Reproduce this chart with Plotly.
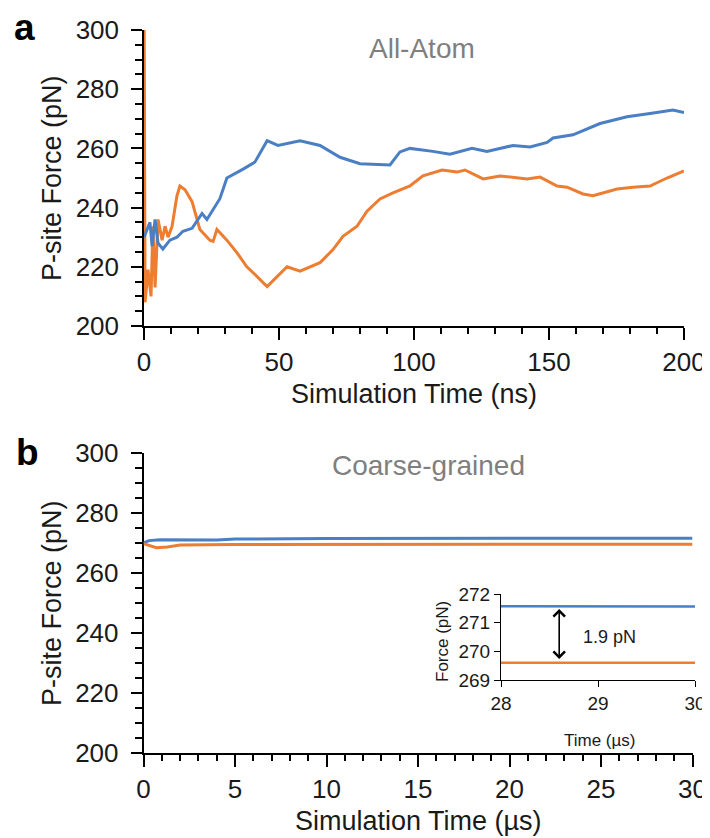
import plotly.graph_objects as go

# ---- Panel a: All-Atom (time in ns, force in pN)
aa_blue_t = [0, 2.2, 3.0, 4.1, 5.2, 7.0, 9.6, 12.2, 14.4, 17.8, 21.5, 23.3, 28.1, 30.7, 36.7,
             41.1, 45.6, 49.6, 57.8, 65.2, 72.6, 80, 91.1, 94.8, 98.5, 107, 113.3, 121.5,
             127, 136.7, 143, 149.3, 151.5, 158.9, 168.9, 178.9, 187.4, 195.9, 200]
aa_blue_f = [230, 235, 227, 236, 228, 226, 229, 230, 232, 233, 238, 236, 243, 250, 253,
             255.4, 262.6, 261, 262.6, 261, 257, 254.8, 254.4, 258.8, 260, 259, 258, 260,
             259, 261, 260.5, 262, 263.5, 264.6, 268.4, 270.7, 271.8, 273, 272.1]

aa_orange_t = [0, 0.4, 1.5, 2.6, 3.3, 4.1, 5.2, 6.7, 7.8, 8.9, 10.4, 12.2, 13.3, 15.2, 17.8,
               20.7, 24.4, 25.6, 27, 30.7, 34.4, 38.1, 41.9, 45.6, 49.3, 53, 57.8, 65.2,
               70, 73.7, 78.9, 82.6, 87.4, 92.2, 98.5, 103.3, 110.4, 115.9, 118.9, 125.6,
               131.9, 141.9, 146.7, 153, 156.7, 162.6, 166.3, 175.2, 181.1, 187.4, 193.7, 200]
aa_orange_f = [320, 208, 219, 210, 233.7, 213, 236, 229, 233.7, 230, 233.7, 244, 247.3, 246, 242,
               232.6, 229, 228.6, 232.6, 229, 224.8, 220, 216.7, 213.3, 216.7, 220, 218.5, 221.4,
               225.8, 230.3, 233.7, 238.8, 242.9, 245, 247.3, 250.7, 252.7, 252, 252.7, 249.7,
               250.7, 249.7, 250.3, 247.3, 246.9, 244.6, 244, 246.3, 246.9, 247.3, 250, 252.4]

# ---- Panel b: Coarse-grained (time in us, force in pN)
cg_blue_t = [0, 0.3, 0.9, 2, 4, 5, 10, 20, 30]
cg_blue_f = [270, 270.8, 271.1, 271.0, 271.0, 271.3, 271.5, 271.55, 271.55]
cg_orange_t = [0, 0.3, 0.7, 1.3, 2, 5, 10, 20, 30]
cg_orange_f = [269.8, 269.2, 268.4, 268.7, 269.3, 269.5, 269.6, 269.6, 269.6]

# ---- Inset (28-30 us)
in_t = [28, 29, 30]
in_blue_f = [271.57, 271.57, 271.56]
in_orange_f = [269.6, 269.61, 269.6]

BLUE = "#4a7fc4"
ORANGE = "#ED7D31"
FONT = "Liberation Sans, Arial, sans-serif"
OFF = 8  # page body margin
W, H = 710 - OFF, 838 - OFF


def px(x):
    return (x - OFF) / W


def py(y):
    return 1 - (y - OFF) / H


fig = go.Figure()
lw = 3
fig.add_trace(go.Scatter(x=aa_orange_t, y=aa_orange_f, mode="lines", line=dict(color=ORANGE, width=lw),
                         xaxis="x", yaxis="y", showlegend=False))
fig.add_trace(go.Scatter(x=aa_blue_t, y=aa_blue_f, mode="lines", line=dict(color=BLUE, width=lw),
                         xaxis="x", yaxis="y", showlegend=False))
fig.add_trace(go.Scatter(x=cg_blue_t, y=cg_blue_f, mode="lines", line=dict(color=BLUE, width=lw),
                         xaxis="x2", yaxis="y2", showlegend=False))
fig.add_trace(go.Scatter(x=cg_orange_t, y=cg_orange_f, mode="lines", line=dict(color=ORANGE, width=lw),
                         xaxis="x2", yaxis="y2", showlegend=False))
fig.add_trace(go.Scatter(x=in_t, y=in_blue_f, mode="lines", line=dict(color=BLUE, width=2.5),
                         xaxis="x3", yaxis="y3", showlegend=False))
fig.add_trace(go.Scatter(x=in_t, y=in_orange_f, mode="lines", line=dict(color=ORANGE, width=2.5),
                         xaxis="x3", yaxis="y3", showlegend=False))

tickfont = dict(family=FONT, size=26, color="#1a1a1a")
axcommon = dict(showgrid=False, zeroline=False, showline=True, linecolor="black", linewidth=1.5,
                ticks="outside", tickcolor="black", tickwidth=1.5, tickfont=tickfont, automargin=False,
                ticklabeloverflow="allow")
mtick = dict(ticks="outside", tickcolor="black", tickwidth=1.5, showgrid=False)
insax = dict(showgrid=False, zeroline=False, showline=True, linecolor="black", linewidth=1.2,
             ticks="outside", tickcolor="black", tickwidth=1.2, automargin=False, ticklabeloverflow="allow",
             tickfont=dict(family=FONT, size=19, color="#1a1a1a"))

fig.update_layout(
    template="none",
    width=W, height=H, margin=dict(l=0, r=0, t=0, b=0, pad=0, autoexpand=False), autosize=False,
    paper_bgcolor="white", plot_bgcolor="white",
    xaxis=dict(domain=[px(144), px(684)], range=[0, 200], anchor="y", dtick=50, ticklen=12,
               minor=dict(dtick=10, ticklen=6, **mtick), **axcommon),
    yaxis=dict(domain=[py(326), py(30)], range=[200, 300], anchor="x", dtick=20, ticklen=11,
               layer="below traces", ticklabelstandoff=7,
               minor=dict(dtick=5, ticklen=7, **mtick), **axcommon),
    xaxis2=dict(domain=[px(143.5), px(692.5)], range=[0, 30], anchor="y2", dtick=5, ticklen=12,
                minor=dict(dtick=1, ticklen=6, **mtick), **axcommon),
    yaxis2=dict(domain=[py(753), py(453)], range=[200, 300], anchor="x2", dtick=20, ticklen=11,
                layer="below traces", ticklabelstandoff=7,
                minor=dict(dtick=5, ticklen=7, **mtick), **axcommon),
    xaxis3=dict(domain=[px(501), px(695)], range=[28, 30], anchor="y3", dtick=1, ticklen=6, **insax),
    yaxis3=dict(domain=[py(680), py(594)], range=[269, 272], anchor="x3", dtick=1, ticklen=6, **insax),
)

ann = []


def label(text, x, y, font, angle=0):
    ann.append(dict(text=text, x=px(x), y=py(y), xref="paper", yref="paper", showarrow=False,
                    font=font, textangle=angle, xanchor="center", yanchor="middle"))


titlefont = dict(family=FONT, size=27, color="#1a1a1a")
label("Simulation Time (ns)", 414, 394, titlefont)
label("Simulation Time (µs)", 418, 821, titlefont)
label("P-site Force (pN)", 52, 178, titlefont, -90)
label("P-site Force (pN)", 52, 603, titlefont, -90)
label("<b>a</b>", 24, 27, dict(family=FONT, size=37, color="black"))
label("<b>b</b>", 27, 452, dict(family=FONT, size=37, color="black"))
label("All-Atom", 422, 48, dict(family=FONT, size=28, color="#7f7f7f"))
label("Coarse-grained", 428, 465, dict(family=FONT, size=28, color="#7f7f7f"))
insfont = dict(family=FONT, size=17, color="#1a1a1a")
label("Time (µs)", 600, 740, insfont)
label("Force (pN)", 442, 642, insfont, -90)
ann.append(dict(text="1.9 pN", x=28.82, y=270.5, xref="x3", yref="y3", xanchor="left", yanchor="middle",
                showarrow=False, font=dict(family=FONT, size=18, color="#1a1a1a")))
# double-headed arrow
ann.append(dict(x=28.6, y=271.48, ax=28.6, ay=269.68, xref="x3", yref="y3", axref="x3", ayref="y3",
                text="", showarrow=True, arrowhead=4, startarrowhead=4, arrowside="end+start",
                arrowsize=1.4, startarrowsize=1.4, arrowwidth=1.6, arrowcolor="black"))
fig.update_layout(annotations=ann)

fig.write_html("out.html")
